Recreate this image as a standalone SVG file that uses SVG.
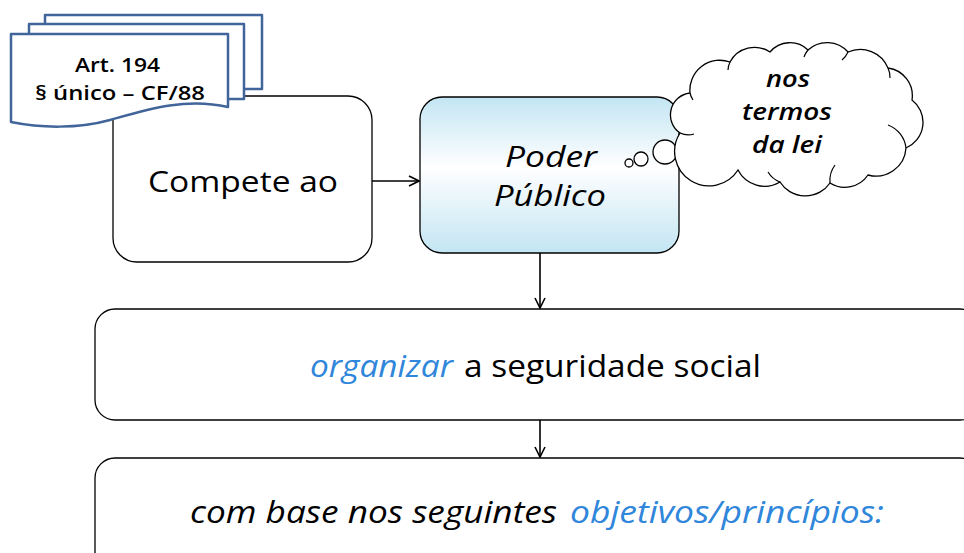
<svg xmlns="http://www.w3.org/2000/svg" width="964" height="553" viewBox="0 0 964 553">
<defs>
<style>
.box{fill:#fff;stroke:#000;stroke-width:1.3}
.doc{fill:#fff;stroke:#41659a;stroke-width:2.5;stroke-linejoin:round}
.conn{fill:none;stroke:#000;stroke-width:1.6}
.t{font-family:"Open Sans","Liberation Sans",sans-serif;fill:#000}
.semi{font-weight:600}
.bold{font-weight:700}
.blue{fill:#2f86da}
.cl{fill:#fff;stroke:#000;stroke-width:1.3}
.crease{fill:none;stroke:#000;stroke-width:1.2}
</style>
<linearGradient id="gp" x1="0" y1="0" x2="0" y2="1">
<stop offset="0" stop-color="#c3e5f3"/>
<stop offset="0.45" stop-color="#ffffff"/>
<stop offset="1" stop-color="#c3e5f3"/>
</linearGradient>
<marker id="ah" viewBox="0 0 12 12" refX="11" refY="6" markerWidth="12" markerHeight="12" markerUnits="userSpaceOnUse" orient="auto">
<path d="M1,1 L11,6 L1,11" fill="none" stroke="#000" stroke-width="1.6"/>
</marker>
</defs>
<rect width="964" height="553" fill="#fff"/>

<g id="connectors">
<line class="conn" x1="372" y1="181" x2="419" y2="181" marker-end="url(#ah)"/>
<line class="conn" x1="540" y1="253" x2="540" y2="308" marker-end="url(#ah)"/>
<line class="conn" x1="540" y1="420" x2="540" y2="457" marker-end="url(#ah)"/>
</g>

<g id="compete">
<rect class="box" x="113" y="96" width="259" height="166" rx="24"/>
<text class="t" x="148" y="192" font-size="30" textLength="190" lengthAdjust="spacingAndGlyphs">Compete ao</text>
</g>

<g id="art194">
<rect class="doc" x="45" y="15" width="217" height="74"/>
<rect class="doc" x="29" y="24" width="215" height="75"/>
<path class="doc" d="M11,34 H228 V107 C185,97 145,110 110,120 C78,129 40,128 11,122 Z"/>
<text class="t semi" x="75" y="72" font-size="20" textLength="85" lengthAdjust="spacingAndGlyphs">Art. 194</text>
<text class="t semi" x="35" y="100" font-size="20" textLength="170" lengthAdjust="spacingAndGlyphs">§ único – CF/88</text>
</g>

<g id="poder">
<rect x="420" y="97" width="259" height="156" rx="22" fill="url(#gp)" stroke="#000" stroke-width="1.3"/>
<text class="t" x="505" y="167" font-size="30" font-style="italic" textLength="92" lengthAdjust="spacingAndGlyphs">Poder</text>
<text class="t" x="494" y="206" font-size="30" font-style="italic" textLength="112" lengthAdjust="spacingAndGlyphs">Público</text>
</g>

<g id="nos-termos">
<circle class="cl" cx="629" cy="163" r="4"/>
<circle class="cl" cx="641" cy="159" r="7"/>
<circle class="cl" cx="665" cy="152" r="12"/>
<path class="cl" d="M680,133 A22,22 0 0 1 690,93 A30,30 0 0 1 730,62 A28,28 0 0 1 770,52 A26,26 0 0 1 808,50 A28,28 0 0 1 848,52 A30,30 0 0 1 888,68 A28,28 0 0 1 912,100 A28,28 0 0 1 906,148 A30,30 0 0 1 868,175 A28,28 0 0 1 830,183 A30,30 0 0 1 780,182 A30,30 0 0 1 738,170 A28,28 0 0 1 680,133 Z"/>
<path class="crease" d="M690,93 A22,22 0 0 0 693,100"/>
<path class="crease" d="M730,62 A20,20 0 0 0 728,70"/>
<path class="crease" d="M808,50 A22,22 0 0 0 804,57"/>
<path class="crease" d="M848,52 A22,22 0 0 1 842,60"/>
<path class="crease" d="M888,68 A22,22 0 0 1 890,78"/>
<path class="crease" d="M906,148 A28,28 0 0 0 888,125"/>
<path class="crease" d="M830,183 A26,26 0 0 1 835,165"/>
<path class="crease" d="M780,182 A24,24 0 0 1 768,172"/>
<path class="crease" d="M680,133 A20,20 0 0 0 694,134"/>
<text class="t semi" x="766" y="87" font-size="24" font-style="italic" textLength="44" lengthAdjust="spacingAndGlyphs">nos</text>
<text class="t semi" x="742" y="120" font-size="24" font-style="italic" textLength="90" lengthAdjust="spacingAndGlyphs">termos</text>
<text class="t semi" x="752" y="153" font-size="24" font-style="italic" textLength="70" lengthAdjust="spacingAndGlyphs">da lei</text>
</g>

<g id="organizar">
<rect class="box" x="95" y="309" width="885" height="111" rx="20"/>
<text class="t blue" x="310" y="377" font-size="31" font-style="italic" textLength="143" lengthAdjust="spacingAndGlyphs">organizar</text>
<text class="t" x="464" y="377" font-size="31" textLength="297" lengthAdjust="spacingAndGlyphs">a seguridade social</text>
</g>

<g id="objetivos">
<rect class="box" x="95" y="458" width="885" height="120" rx="20"/>
<text class="t" x="190" y="523" font-size="31" font-style="italic" textLength="367" lengthAdjust="spacingAndGlyphs">com base nos seguintes</text>
<text class="t blue" x="570" y="523" font-size="31" font-style="italic" textLength="314" lengthAdjust="spacingAndGlyphs">objetivos/princípios:</text>
</g>
</svg>
